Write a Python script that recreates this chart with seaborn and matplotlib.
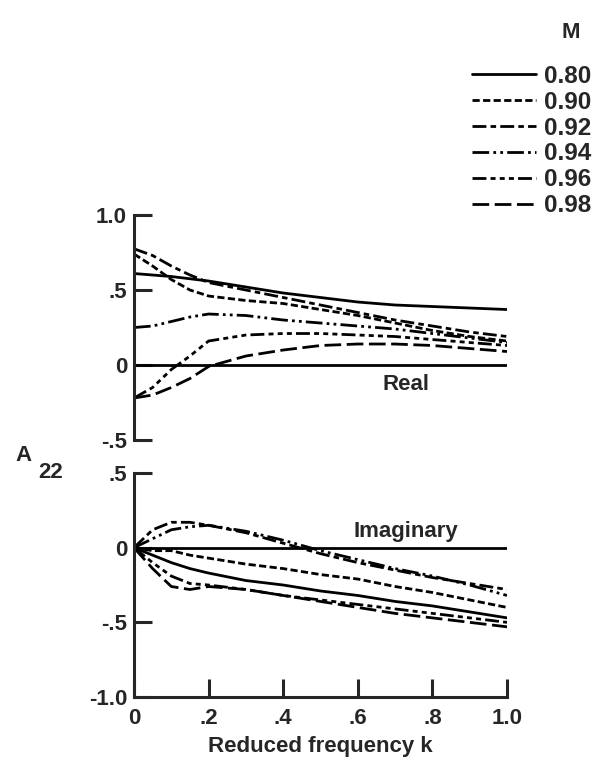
import matplotlib
matplotlib.use("Agg")
import matplotlib.pyplot as plt
import seaborn as sns
import numpy as np

# reduced frequency k
k = [0, 0.05, 0.1, 0.15, 0.2, 0.3, 0.4, 0.5, 0.6, 0.7, 0.8, 0.9, 1.0]

mach = ["0.80", "0.90", "0.92", "0.94", "0.96", "0.98"]

# real part of A22
real_080 = [0.61, 0.60, 0.59, 0.575, 0.56, 0.52, 0.48, 0.45, 0.42, 0.40, 0.39, 0.38, 0.37]
real_090 = [0.74, 0.66, 0.57, 0.50, 0.46, 0.43, 0.41, 0.37, 0.33, 0.28, 0.23, 0.19, 0.16]
real_092 = [0.775, 0.73, 0.66, 0.60, 0.55, 0.50, 0.45, 0.40, 0.35, 0.30, 0.26, 0.22, 0.19]
real_094 = [0.25, 0.26, 0.29, 0.32, 0.34, 0.33, 0.30, 0.28, 0.26, 0.24, 0.21, 0.18, 0.15]
real_096 = [-0.22, -0.15, -0.03, 0.06, 0.16, 0.20, 0.21, 0.21, 0.20, 0.19, 0.17, 0.15, 0.13]
real_098 = [-0.22, -0.20, -0.15, -0.09, -0.01, 0.06, 0.10, 0.13, 0.14, 0.14, 0.13, 0.11, 0.09]

# imaginary part of A22
imag_080 = [0, -0.05, -0.10, -0.14, -0.17, -0.22, -0.25, -0.29, -0.32, -0.36, -0.39, -0.43, -0.47]
imag_090 = [0, -0.02, -0.02, -0.05, -0.07, -0.11, -0.14, -0.18, -0.21, -0.26, -0.30, -0.35, -0.40]
imag_092 = [0, 0.12, 0.17, 0.17, 0.15, 0.10, 0.03, -0.04, -0.10, -0.15, -0.20, -0.24, -0.28]
imag_094 = [0, 0.06, 0.12, 0.14, 0.15, 0.11, 0.05, -0.02, -0.08, -0.14, -0.19, -0.25, -0.32]
imag_096 = [0, -0.10, -0.19, -0.24, -0.25, -0.28, -0.32, -0.35, -0.38, -0.41, -0.44, -0.47, -0.50]
imag_098 = [0, -0.14, -0.26, -0.28, -0.26, -0.28, -0.32, -0.36, -0.40, -0.44, -0.47, -0.50, -0.53]

real_vals = [real_080, real_090, real_092, real_094, real_096, real_098]
imag_vals = [imag_080, imag_090, imag_092, imag_094, imag_096, imag_098]

styles = ['-',
          (0, (2.6, 1.2)),
          (0, (5, 1.5, 2, 1.5)),
          (0, (6, 1.5, 1, 1.5, 1, 1.5)),
          (0, (5, 1.5, 1.8, 1.5, 1.8, 1.5, 1.8, 1.5)),
          (0, (6, 2))]

sns.set_style("ticks")
plt.rcParams['font.family'] = ['Liberation Sans', 'DejaVu Sans']
plt.rcParams['font.weight'] = 'bold'
plt.rcParams['axes.labelweight'] = 'bold'
fs = 16

fig = plt.figure(figsize=(6.03, 7.69), dpi=100)
ax1 = fig.add_axes([0.2222, 0.4278, 0.6186, 0.2926])
ax2 = fig.add_axes([0.2222, 0.0936, 0.6186, 0.2913])

lw = 2.0
for vals, ls, m in zip(real_vals, styles, mach):
    sns.lineplot(x=k, y=vals, ax=ax1, color='black', linestyle=ls, lw=lw, label=m, legend=False)
for vals, ls in zip(imag_vals, styles):
    sns.lineplot(x=k, y=vals, ax=ax2, color='black', linestyle=ls, lw=lw, legend=False)

for ax in (ax1, ax2):
    ax.axhline(0, color='black', lw=lw)
    ax.set_xlim(0, 1.0)
    sns.despine(ax=ax, top=True, right=True)
    ax.spines['left'].set_linewidth(2.2)
    ax.tick_params(direction='in', length=13, width=2.2, labelsize=fs, pad=5)
    ax.set_xlabel('')
    ax.set_ylabel('')

ax1.set_ylim(-0.5, 1.0)
ax1.set_yticks([1.0, 0.5, 0, -0.5])
ax1.set_yticklabels(['1.0', '.5', '0', '-.5'])
ax1.spines['bottom'].set_visible(False)
ax1.set_xticks([])
ax1.text(0.73, -0.13, 'Real', fontsize=fs, ha='center', va='center')

ax2.set_ylim(-1.0, 0.5)
ax2.set_yticks([0.5, 0, -0.5, -1.0])
ax2.set_yticklabels(['.5', '0', '-.5', '-1.0'])
ax2.set_xticks([0, 0.2, 0.4, 0.6, 0.8, 1.0])
ax2.set_xticklabels(['0', '.2', '.4', '.6', '.8', '1.0'])
ax2.spines['bottom'].set_linewidth(2.2)
ax2.tick_params(axis='x', pad=8)
ax2.text(0.73, 0.107, 'Imaginary', fontsize=fs, ha='center', va='center')
ax2.set_xlabel('Reduced frequency k', fontsize=fs, fontweight='bold', labelpad=5)

fig.text(0.026, 0.408, 'A', fontsize=fs, ha='left', va='center')
fig.text(0.064, 0.386, '22', fontsize=fs, ha='left', va='center')

handles, labels = ax1.get_legend_handles_labels()
fig.legend(handles, labels, loc='upper right', bbox_to_anchor=(1.008, 0.938),
           frameon=False, prop={'size': 17.5, 'weight': 'bold'},
           handlelength=2.6, handletextpad=0.33,
           labelspacing=0.12, borderpad=0.2)
fig.text(0.947, 0.958, 'M', fontsize=fs, ha='center', va='center')

fig.savefig('out.png', dpi=100)
